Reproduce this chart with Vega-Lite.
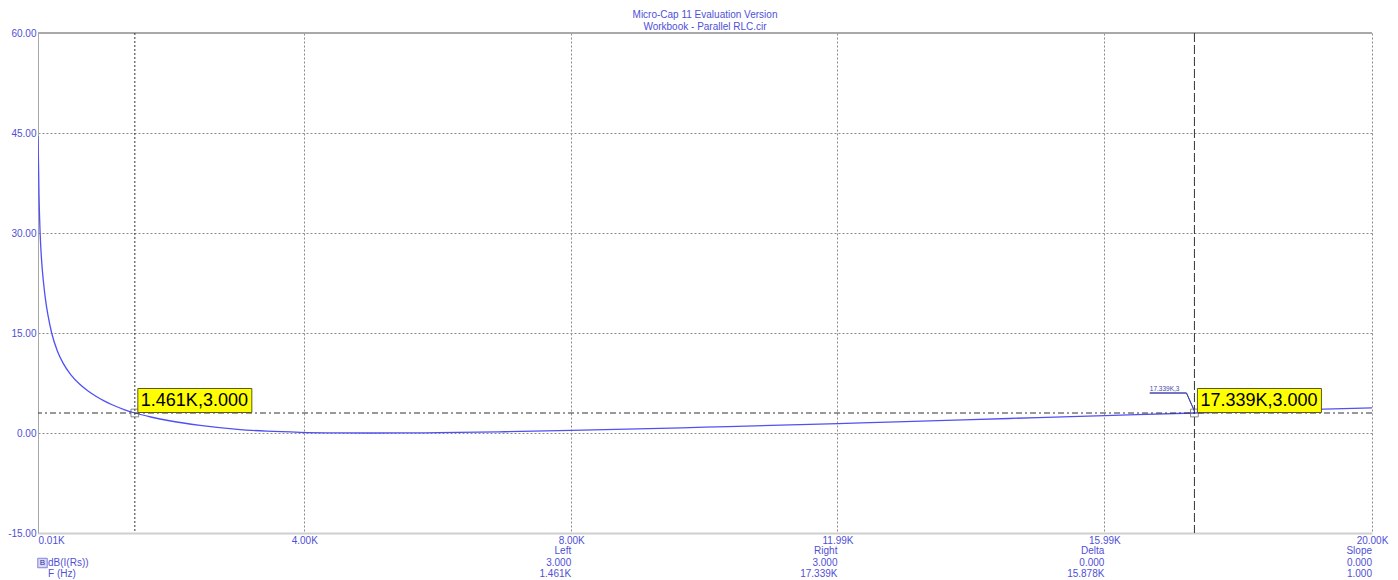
{
  "$schema": "https://vega.github.io/schema/vega-lite/v6.json",
  "width": 1334,
  "height": 500,
  "autosize": "none",
  "padding": {"left": 38, "top": 33, "right": 26, "bottom": 47},
  "background": "#ffffff",
  "config": {
    "view": {"stroke": null},
    "font": "Liberation Sans",
    "text": {"font": "Liberation Sans"}
  },
  "title": {
    "text": ["Micro-Cap 11 Evaluation Version", "Workbook - Parallel RLC.cir"],
    "fontSize": 10,
    "fontWeight": "normal",
    "font": "Liberation Sans",
    "color": "#4f4fd8",
    "anchor": "middle",
    "frame": "group",
    "offset": -4,
    "lineHeight": 12
  },
  "datasets": {
    "response": [
      {"freq": 0.01, "db": 44.5},
      {"freq": 0.015, "db": 41.8},
      {"freq": 0.02, "db": 38.84},
      {"freq": 0.025, "db": 35.73},
      {"freq": 0.03, "db": 33.51},
      {"freq": 0.04, "db": 30.4},
      {"freq": 0.05, "db": 28.18},
      {"freq": 0.06, "db": 26.46},
      {"freq": 0.075, "db": 24.44},
      {"freq": 0.09, "db": 22.83},
      {"freq": 0.12, "db": 20.19},
      {"freq": 0.16, "db": 17.63},
      {"freq": 0.215, "db": 15.0},
      {"freq": 0.3, "db": 12.3},
      {"freq": 0.39, "db": 10.4},
      {"freq": 0.5, "db": 8.75},
      {"freq": 0.64, "db": 7.26},
      {"freq": 0.76, "db": 6.3},
      {"freq": 0.89, "db": 5.44},
      {"freq": 1.0, "db": 4.82},
      {"freq": 1.13, "db": 4.2},
      {"freq": 1.3, "db": 3.52},
      {"freq": 1.461, "db": 3.0},
      {"freq": 1.7, "db": 2.4},
      {"freq": 2.0, "db": 1.8},
      {"freq": 2.44, "db": 1.15},
      {"freq": 3.0, "db": 0.55},
      {"freq": 3.44, "db": 0.27},
      {"freq": 3.94, "db": 0.1},
      {"freq": 4.5, "db": 0.02},
      {"freq": 5.0, "db": 0.0},
      {"freq": 5.5, "db": 0.01},
      {"freq": 6.0, "db": 0.05},
      {"freq": 7.0, "db": 0.19},
      {"freq": 8.0, "db": 0.39},
      {"freq": 9.0, "db": 0.61},
      {"freq": 10.0, "db": 0.87},
      {"freq": 11.0, "db": 1.14},
      {"freq": 12.0, "db": 1.42},
      {"freq": 13.0, "db": 1.72},
      {"freq": 14.0, "db": 2.01},
      {"freq": 15.0, "db": 2.31},
      {"freq": 16.0, "db": 2.61},
      {"freq": 17.339, "db": 3.0},
      {"freq": 18.0, "db": 3.21},
      {"freq": 19.0, "db": 3.5},
      {"freq": 20.0, "db": 3.76}
    ],
    "cursors": [
      {"side": "Left", "freq": 1.461, "db": 3.0, "label": "1.461K,3.000"},
      {"side": "Right", "freq": 17.339, "db": 3.0, "label": "17.339K,3.000"}
    ],
    "readout": [
      {"freq": 8.0, "lines": "Left\n3.000\n1.461K"},
      {"freq": 11.99, "lines": "Right\n3.000\n17.339K"},
      {"freq": 15.99, "lines": "Delta\n0.000\n15.878K"},
      {"freq": 20.0, "lines": "Slope\n0.000\n1.000"}
    ],
    "legend": [
      {"freq": 0.01, "lines": "dB(I(Rs))\nF (Hz)"}
    ]
  },
  "layer": [
    {
      "data": {"name": "response"},
      "mark": {"type": "line", "color": "#5050f5", "strokeWidth": 1.3, "interpolate": "monotone", "clip": true},
      "encoding": {
        "x": {
          "field": "freq",
          "type": "quantitative",
          "scale": {"domain": [0.01, 20], "nice": false, "zero": false},
          "axis": {
            "title": null,
            "values": [0.01, 4.0, 8.0, 11.99, 15.99, 20.0],
            "labelExpr": "format(datum.value, '.2f') + 'K'",
            "labelAlign": {"condition": {"test": "datum.value < 1", "value": "left"}, "value": "center"},
            "labelColor": "#4f4fd8",
            "labelFontSize": 10,
            "labelFont": "Liberation Sans",
            "labelPadding": 2,
            "labelFlush": false,
            "labelOverlap": false,
            "ticks": false,
            "domainColor": "#cfcfcf",
            "domainWidth": 2,
            "grid": true,
            "gridColor": "#8a8a8a",
            "gridDash": [2, 2],
            "gridOpacity": {"condition": {"test": "datum.value < 1", "value": 0}, "value": 1}
          }
        },
        "y": {
          "field": "db",
          "type": "quantitative",
          "scale": {"domain": [-15, 60], "nice": false, "zero": false},
          "axis": {
            "title": null,
            "values": [-15, 0, 15, 30, 45, 60],
            "labelExpr": "(datum.value < 0 ? '-' : '') + format(abs(datum.value), '.2f')",
            "labelColor": "#4f4fd8",
            "labelFontSize": 10,
            "labelFont": "Liberation Sans",
            "labelPadding": 2,
            "labelOverlap": false,
            "labelFlush": false,
            "ticks": false,
            "domainColor": "#a8a8a8",
            "domainWidth": 1,
            "grid": true,
            "gridColor": "#8a8a8a",
            "gridDash": [2, 2],
            "gridOpacity": {"condition": {"test": "datum.value < -10 || datum.value > 50", "value": 0}, "value": 1}
          }
        }
      }
    },
    {
      "data": {"name": "response"},
      "mark": {"type": "rule", "color": "#a8a8a8", "strokeWidth": 1},
      "encoding": {"y": {"datum": 60, "type": "quantitative"}}
    },
    {
      "data": {"name": "cursors"},
      "mark": {"type": "rule", "color": "#333333", "strokeWidth": 1},
      "encoding": {
        "x": {"field": "freq", "type": "quantitative"},
        "strokeDash": {"condition": {"test": "datum.side === 'Left'", "value": [2, 2]}, "value": [9, 3]}
      }
    },
    {
      "data": {"name": "cursors"},
      "transform": [{"filter": "datum.side === 'Left'"}],
      "mark": {"type": "rule", "color": "#333333", "strokeWidth": 1, "strokeDash": [6, 3, 2, 3]},
      "encoding": {"y": {"field": "db", "type": "quantitative"}}
    },
    {
      "data": {"name": "cursors"},
      "mark": {"type": "point", "shape": "square", "size": 60, "filled": false, "color": "#555555", "strokeWidth": 1},
      "encoding": {
        "x": {"field": "freq", "type": "quantitative"},
        "y": {"field": "db", "type": "quantitative"}
      }
    },
    {
      "data": {"name": "cursors"},
      "transform": [{"filter": "datum.side === 'Left'"}],
      "mark": {"type": "rect", "width": 114, "height": 24, "xOffset": 60, "yOffset": -12.5, "fill": "#ffff00", "stroke": "#5a5a20", "strokeWidth": 1},
      "encoding": {
        "x": {"field": "freq", "type": "quantitative"},
        "y": {"field": "db", "type": "quantitative"}
      }
    },
    {
      "data": {"name": "cursors"},
      "transform": [{"filter": "datum.side === 'Right'"}],
      "mark": {"type": "rect", "width": 124, "height": 24, "xOffset": 65, "yOffset": -12.5, "fill": "#ffff00", "stroke": "#5a5a20", "strokeWidth": 1},
      "encoding": {
        "x": {"field": "freq", "type": "quantitative"},
        "y": {"field": "db", "type": "quantitative"}
      }
    },
    {
      "data": {"name": "cursors"},
      "mark": {"type": "text", "align": "left", "baseline": "middle", "dx": 6, "dy": -12, "fontSize": 18, "color": "#000000"},
      "encoding": {
        "x": {"field": "freq", "type": "quantitative"},
        "y": {"field": "db", "type": "quantitative"},
        "text": {"field": "label"}
      }
    },
    {
      "data": {"name": "cursors"},
      "mark": {"type": "rule", "color": "#4646b0", "strokeWidth": 1},
      "encoding": {
        "x": {"datum": 16.67, "type": "quantitative"},
        "x2": {"datum": 17.22},
        "y": {"datum": 6.0, "type": "quantitative"}
      }
    },
    {
      "data": {"name": "cursors"},
      "mark": {"type": "rule", "color": "#4646b0", "strokeWidth": 1},
      "encoding": {
        "x": {"datum": 17.22, "type": "quantitative"},
        "x2": {"datum": 17.339},
        "y": {"datum": 6.0, "type": "quantitative"},
        "y2": {"datum": 3.3}
      }
    },
    {
      "data": {"name": "cursors"},
      "transform": [{"filter": "datum.side === 'Right'"}],
      "mark": {"type": "text", "align": "left", "baseline": "bottom", "dy": -1, "fontSize": 6.5, "color": "#4646b0"},
      "encoding": {
        "x": {"datum": 16.67, "type": "quantitative"},
        "y": {"datum": 6.0, "type": "quantitative"},
        "text": {"value": "17.339K,3"}
      }
    },
    {
      "data": {"name": "readout"},
      "mark": {"type": "text", "align": "right", "baseline": "top", "dy": 13, "fontSize": 10, "lineHeight": 11.5, "lineBreak": "\n", "color": "#4f4fd8"},
      "encoding": {
        "x": {"field": "freq", "type": "quantitative"},
        "y": {"datum": -15, "type": "quantitative"},
        "text": {"field": "lines"}
      }
    },
    {
      "data": {"name": "legend"},
      "mark": {"type": "text", "align": "left", "baseline": "top", "dx": 10, "dy": 24.5, "fontSize": 10, "lineHeight": 11, "lineBreak": "\n", "color": "#4f4fd8"},
      "encoding": {
        "x": {"field": "freq", "type": "quantitative"},
        "y": {"datum": -15, "type": "quantitative"},
        "text": {"field": "lines"}
      }
    },
    {
      "data": {"name": "legend"},
      "mark": {"type": "point", "shape": "square", "size": 90, "filled": true, "fill": "#c8c8f0", "stroke": "#4f4fd8", "strokeWidth": 1, "xOffset": 4.5, "yOffset": 30},
      "encoding": {
        "x": {"field": "freq", "type": "quantitative"},
        "y": {"datum": -15, "type": "quantitative"}
      }
    },
    {
      "data": {"name": "legend"},
      "mark": {"type": "text", "align": "center", "baseline": "middle", "fontSize": 8, "color": "#3030a0", "xOffset": 4.5, "yOffset": 30},
      "encoding": {
        "x": {"field": "freq", "type": "quantitative"},
        "y": {"datum": -15, "type": "quantitative"},
        "text": {"value": "B"}
      }
    }
  ]
}
